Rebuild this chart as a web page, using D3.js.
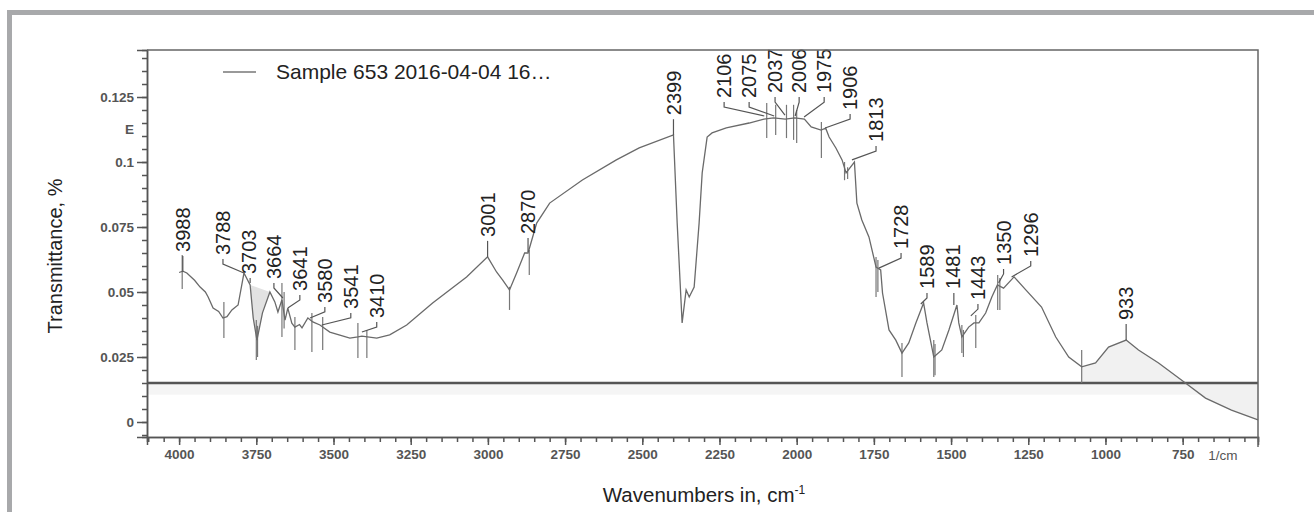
<!DOCTYPE html>
<html>
<head>
<meta charset="utf-8">
<script src="https://cdn.jsdelivr.net/npm/d3@7"></script>
<style>
body { margin: 0; background: #fff; }
svg { display: block; font-family: "Liberation Sans", Arial, sans-serif; }
</style>
</head>
<body>
<div id="chart"></div>
<script>
// spectrum trace (wavenumber, transmittance)
var wavenumbers = [4000, 3988, 3975, 3950, 3932, 3915, 3906, 3890, 3872, 3858, 3845, 3829, 3809, 3790, 3770, 3760, 3748, 3730, 3706,
    3690, 3680, 3667, 3657, 3648, 3635, 3625, 3610, 3602, 3583, 3567, 3544, 3512, 3447, 3421, 3408, 3360, 3318, 3263, 3179, 3069,
    3001, 2972, 2952, 2930, 2907, 2881, 2870, 2842, 2800, 2694, 2584, 2510, 2399, 2387, 2371, 2358, 2348, 2332, 2316, 2306, 2290,
    2274, 2228, 2154, 2106, 2075, 2037, 2006, 1975, 1953, 1921, 1906, 1895, 1873, 1853, 1840, 1813, 1805, 1789, 1766, 1743, 1728,
    1722, 1701, 1679, 1659, 1637, 1614, 1589, 1578, 1556, 1530, 1507, 1481, 1475, 1465, 1443, 1426, 1410, 1388, 1368, 1350, 1330,
    1296, 1258, 1207, 1161, 1119, 1077, 1032, 990, 933, 893, 828, 741, 676, 592, 506];
var transmittance = [0.0575, 0.058, 0.0573, 0.0545, 0.0519, 0.050, 0.0481, 0.0438, 0.0425, 0.040, 0.0405, 0.0431, 0.045, 0.0573, 0.0527, 0.040, 0.0315, 0.042, 0.050,
    0.0462, 0.0423, 0.047, 0.0392, 0.0438, 0.038, 0.0365, 0.0375, 0.0362, 0.040, 0.0385, 0.0373, 0.0346, 0.0323, 0.0327, 0.033, 0.0323, 0.0335, 0.0373, 0.0458, 0.0558,
    0.0635, 0.0577, 0.0546, 0.0508, 0.0573, 0.065, 0.065, 0.0765, 0.0842, 0.0931, 0.1008, 0.1054, 0.1104, 0.0765, 0.0381, 0.0508, 0.0481, 0.0519, 0.0765, 0.0958, 0.1096,
    0.1112, 0.1131, 0.115, 0.1165, 0.117, 0.1165, 0.117, 0.1165, 0.1135, 0.1123, 0.113, 0.1096, 0.1054, 0.1008, 0.0958, 0.100, 0.0842, 0.0777, 0.0712, 0.0596, 0.0585,
    0.0496, 0.0354, 0.0315, 0.0265, 0.0304, 0.0381, 0.0458, 0.0381, 0.025, 0.0277, 0.0354, 0.045, 0.0381, 0.0327, 0.0365, 0.0381, 0.0381, 0.0419, 0.0481, 0.0527, 0.0515,
    0.0558, 0.0508, 0.0442, 0.0327, 0.025, 0.0212, 0.0227, 0.0288, 0.0315, 0.0277, 0.0227, 0.015, 0.0092, 0.0046, 0.0008];

// narrow noise spikes (wavenumber, top, bottom)
var spikeWn = [3990, 3855, 3750, 3746, 3667, 3660, 3625, 3570, 3535, 3421, 3392, 2930, 2866, 2097, 2068, 2033, 2010, 2000,
    1920, 1845, 1835, 1743, 1737, 1659, 1556, 1552, 1465, 1460, 1420, 1349, 1342, 1077];
var spikeTop = [0.0642, 0.0462, 0.0392, 0.037, 0.0535, 0.050, 0.0404, 0.0419, 0.0404, 0.0381, 0.0354, 0.052, 0.0662, 0.1227, 0.122, 0.122, 0.122, 0.120,
    0.1154, 0.100, 0.098, 0.0635, 0.0623, 0.0304, 0.0315, 0.030, 0.0373, 0.0354, 0.0412, 0.0565, 0.0554, 0.0277];
var spikeBottom = [0.0512, 0.0323, 0.0238, 0.025, 0.0327, 0.036, 0.0277, 0.0269, 0.0277, 0.0246, 0.0246, 0.0431, 0.0565, 0.1092, 0.1104, 0.1092, 0.1085, 0.1073,
    0.1015, 0.093, 0.0935, 0.0481, 0.050, 0.0173, 0.0173, 0.018, 0.0265, 0.025, 0.0285, 0.0431, 0.0431, 0.015];

// peak labels: text, point on the trace, and where the label sits
var peakNames = ["3988", "3788", "3703", "3664", "3641", "3580", "3541", "3410", "3001", "2870", "2399", "2106", "2075",
    "2037", "2006", "1975", "1906", "1813", "1728", "1589", "1481", "1443", "1350", "1296", "933"];
var peakWn = [3988, 3790, 3770, 3664, 3648, 3576, 3538, 3408, 3001, 2870, 2399, 2105, 2073, 2038, 2005, 1976, 1908, 1821, 1734,
    1598, 1491, 1436, 1346, 1304, 933];
var peakT = [0.0577, 0.0573, 0.0535, 0.0477, 0.0438, 0.040, 0.0373, 0.0346, 0.0635, 0.0654, 0.1104, 0.1177, 0.1177, 0.118, 0.1177,
    0.1173, 0.1131, 0.1008, 0.0592, 0.0454, 0.045, 0.0408, 0.0535, 0.0558, 0.0315];
var labelWn = [3988, 3858, 3774, 3693, 3609, 3528, 3444, 3360, 3001, 2870, 2399, 2235, 2154, 2070, 1992, 1911, 1827, 1743, 1662,
    1578, 1494, 1413, 1330, 1242, 933];
var labelT = [0.0654, 0.0642, 0.0569, 0.055, 0.0504, 0.0458, 0.0435, 0.040, 0.0712, 0.0723, 0.118, 0.1246, 0.1246, 0.1265, 0.1265,
    0.1265, 0.120, 0.1077, 0.0665, 0.0512, 0.0512, 0.0469, 0.0604, 0.0635, 0.0392];

var yTicks = [0, 0.025, 0.05, 0.075, 0.1, 0.125];
var xTicks = [4000, 3750, 3500, 3250, 3000, 2750, 2500, 2250, 2000, 1750, 1500, 1250, 1000, 750];
var baselineT = 0.015;
var legendText = "Sample 653 2016-04-04 16\u2026";

var margin = {top: 50, right: 56, bottom: 75, left: 147},
    width = 1314 - margin.left - margin.right,
    height = 512 - margin.top - margin.bottom;

var x = d3.scaleLinear().domain([4104, 506]).range([0, width]);
var y = d3.scaleLinear().domain([-0.00577, 0.14308]).range([height, 0]);

var spectrum = wavenumbers.map(function(d, i) { return {wn: d, t: transmittance[i]}; });

var svg = d3.select("#chart").append("svg")
    .attr("width", 1314)
    .attr("height", 512);

// grey page frame (top + left)
svg.append("rect").attr("x", 7).attr("y", 10).attr("width", 1307).attr("height", 5).attr("fill", "#a8a9ab");
svg.append("rect").attr("x", 7).attr("y", 10).attr("width", 5).attr("height", 502).attr("fill", "#a8a9ab");

var g = svg.append("g")
    .attr("transform", "translate(" + margin.left + "," + margin.top + ")");

// faint strip under the baseline
g.append("rect")
    .attr("x", 0)
    .attr("y", y(baselineT))
    .attr("width", width)
    .attr("height", y(0.0105) - y(baselineT))
    .attr("fill", "#f5f5f5");

// shaded areas
var lowPart = spectrum.filter(function(d) { return d.wn <= 1077; });
g.append("path")
    .datum(lowPart)
    .attr("fill", "#f1f1f1")
    .attr("d", d3.area()
        .x(function(d) { return x(d.wn); })
        .y0(y(baselineT))
        .y1(function(d) { return y(d.t); }));

var tri = spectrum.filter(function(d) { return d.wn <= 3770 && d.wn >= 3706; });
g.append("path")
    .datum(tri)
    .attr("fill", "#e2e2e2")
    .attr("d", d3.line().x(function(d) { return x(d.wn); }).y(function(d) { return y(d.t); }) (tri) + "Z");

// baseline
g.append("line")
    .attr("x1", 0).attr("x2", width)
    .attr("y1", y(baselineT)).attr("y2", y(baselineT))
    .attr("stroke", "#555")
    .attr("stroke-width", 2.5);

// spikes
g.selectAll(".spike")
    .data(spikeWn)
    .enter()
    .append("line")
    .attr("class", "spike")
    .attr("x1", function(d) { return x(d); })
    .attr("x2", function(d) { return x(d); })
    .attr("y1", function(d, i) { return y(spikeTop[i]); })
    .attr("y2", function(d, i) { return y(spikeBottom[i]); })
    .attr("stroke", "#777")
    .attr("stroke-width", 1.2);

// the trace
g.append("path")
    .datum(spectrum)
    .attr("fill", "none")
    .attr("stroke", "#6a6a6a")
    .attr("stroke-width", 1.3)
    .attr("d", d3.line()
        .x(function(d) { return x(d.wn); })
        .y(function(d) { return y(d.t); }));

// peak labels with leaders
peakNames.forEach(function(name, i) {
    var lx = x(labelWn[i]), ly = y(labelT[i]);
    var ax = x(peakWn[i]), ay = y(peakT[i]);
    var elbow = Math.min(ly + 9, ay - 2);
    var path = Math.abs(lx - ax) < 2
        ? "M" + ax + "," + (ly + 4) + "V" + ay
        : "M" + lx + "," + (ly + 4) + "V" + elbow + "L" + ax + "," + ay;
    g.append("path")
        .attr("d", path)
        .attr("fill", "none")
        .attr("stroke", "#555")
        .attr("stroke-width", 1.2);
    g.append("text")
        .attr("transform", "translate(" + lx + "," + ly + ") rotate(-90)")
        .attr("dy", "0.36em")
        .attr("text-anchor", "start")
        .attr("font-size", "20px")
        .attr("fill", "#222")
        .text(name);
});

// axes
var yAxis = d3.axisLeft(y).tickValues(yTicks).tickSize(10).tickPadding(3)
    .tickFormat(function(d) { return String(d); });
var yMinor = d3.axisLeft(y).tickValues(d3.range(-0.005, 0.1431, 0.005)).tickSize(5).tickFormat("");
var xAxis = d3.axisBottom(x).tickValues(xTicks).tickSize(8).tickPadding(4).tickFormat(d3.format("d"));
var xMinor = d3.axisBottom(x).tickValues(d3.range(550, 4101, 50)).tickSize(5).tickFormat("");

g.append("g").attr("class", "axis").call(yMinor);
g.append("g").attr("class", "axis").call(yAxis);
g.append("g").attr("class", "axis").attr("transform", "translate(0," + height + ")").call(xMinor);
g.append("g").attr("class", "axis").attr("transform", "translate(0," + height + ")").call(xAxis);

g.selectAll(".axis path, .axis line").attr("stroke", "#555").attr("stroke-width", 1.5);
g.selectAll(".axis text")
    .attr("font-family", "'Liberation Sans', Arial, sans-serif")
    .attr("font-size", "13.5px")
    .attr("font-weight", "bold")
    .attr("fill", "#555");

// stray "E" label on the y axis
g.append("text")
    .attr("x", -13)
    .attr("y", y(0.1125))
    .attr("dy", "0.35em")
    .attr("text-anchor", "end")
    .attr("font-size", "13.5px")
    .attr("font-weight", "bold")
    .attr("fill", "#555")
    .text("E");

// unit at the end of the x axis
g.append("text")
    .attr("x", x(620))
    .attr("y", height + 23)
    .attr("text-anchor", "middle")
    .attr("font-size", "13.5px")
    .attr("fill", "#555")
    .text("1/cm");

// plot frame top + right
g.append("path")
    .attr("d", "M0,0H" + width + "V" + (height + 10))
    .attr("fill", "none")
    .attr("stroke", "#666")
    .attr("stroke-width", 1.5);

// legend
g.append("line")
    .attr("x1", 76).attr("x2", 109)
    .attr("y1", 22).attr("y2", 22)
    .attr("stroke", "#777")
    .attr("stroke-width", 1.5);
g.append("text")
    .attr("x", 129)
    .attr("y", 29)
    .attr("font-size", "21px")
    .attr("fill", "#222")
    .text(legendText);

// axis titles
svg.append("text")
    .attr("transform", "translate(62,256) rotate(-90)")
    .attr("text-anchor", "middle")
    .attr("font-size", "20px")
    .attr("fill", "#222")
    .text("Transmittance, %");

var xt = svg.append("text")
    .attr("x", 704)
    .attr("y", 502)
    .attr("text-anchor", "middle")
    .attr("font-size", "20.5px")
    .attr("fill", "#222");
xt.append("tspan").text("Wavenumbers in, cm");
xt.append("tspan").attr("dy", "-8").attr("font-size", "12px").text("-1");
</script>
</body>
</html>
